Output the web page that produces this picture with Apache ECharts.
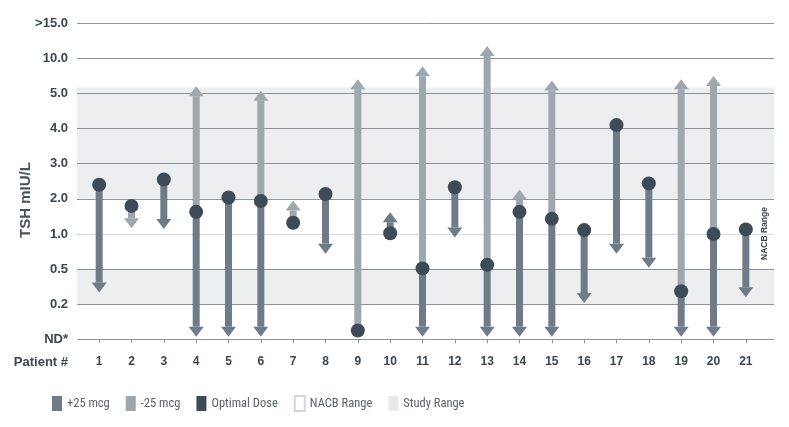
<!DOCTYPE html>
<html>
<head>
<meta charset="utf-8">
<script src="https://cdn.jsdelivr.net/npm/echarts@6/dist/echarts.min.js"></script>
<style>
html,body{margin:0;padding:0;background:#fff;}
#chart{width:789px;height:427px;}
</style>
</head>
<body>
<div id="chart"></div>
<script>
// ---- data ----
const patients = ['1','2','3','4','5','6','7','8','9','10','11','12','13','14','15','16','17','18','19','20','21'];
const tickLabels = ['ND*','0.2','0.5','1.0','2.0','3.0','4.0','5.0','10.0','>15.0'];
const tickValues = [0, 0.2, 0.5, 1, 2, 3, 4, 5, 10, 15];
// TSH (mIU/L) at optimal dose
const optimalDose = [2.4, 1.8, 2.55, 1.63, 2.04, 1.94, 1.32, 2.14, 0.05, 1.02, 0.51, 2.33, 0.56, 1.63, 1.43, 1.11, 4.1, 2.44, 0.31, 1.0, 1.13];
// TSH after +25 mcg (null = not tested)
const plus25End = [0.3, null, 1.14, 0.015, 0.015, 0.015, null, 0.72, null, 1.62, 0.015, 0.95, 0.015, 0.015, 0.015, 0.21, 0.72, 0.52, 0.015, 0.015, 0.26];
// TSH after -25 mcg (null = not tested)
const minus25End = [null, 1.16, null, 6.05, null, 5.4, 1.95, null, 7.05, null, 8.9, null, 11.75, 2.27, 6.85, null, null, null, 7.05, 7.5, null];
const nacbRange = [0.5, 2.0];
const studyRange = [0.2, 5.85];

// ---- colours ----
const C_PLUS = '#6f7b86';
const C_MINUS = '#9ea6ae';
const C_DOT = '#3d4a57';
const C_GRID = '#8d949b';
const C_TEXT = '#3a4552';
const FONT = "'Liberation Sans', Arial, Helvetica, sans-serif";
const FONT_N = "'Liberation Sans Narrow', 'Roboto Condensed', 'DejaVu Sans Condensed', 'Liberation Sans', sans-serif";

// piecewise scale: TSH value -> position on the ordinal tick scale
function toScale(v) {
  for (let i = 0; i < tickValues.length - 1; i++) {
    if (v <= tickValues[i + 1]) {
      return i + (v - tickValues[i]) / (tickValues[i + 1] - tickValues[i]);
    }
  }
  return tickValues.length - 1;
}

function arrowData(ends) {
  const out = [];
  ends.forEach((e, i) => {
    if (e !== null) out.push([i, toScale(optimalDose[i]), toScale(e)]);
  });
  return out;
}

function makeArrow(color) {
  return function (params, api) {
    const x = api.value(0);
    const p0 = api.coord([x, api.value(1)]);
    const p1 = api.coord([x, api.value(2)]);
    const dir = p1[1] < p0[1] ? -1 : 1;
    const headLen = 10, headHalf = 7.5, shaftHalf = 3.5;
    const baseY = p1[1] - dir * headLen;
    return {
      type: 'group',
      children: [
        { type: 'rect', shape: { x: p0[0] - shaftHalf, y: Math.min(p0[1], baseY), width: shaftHalf * 2, height: Math.abs(baseY - p0[1]) }, style: { fill: color } },
        { type: 'polygon', shape: { points: [[p0[0] - headHalf, baseY], [p0[0] + headHalf, baseY], [p0[0], p1[1]]] }, style: { fill: color } }
      ]
    };
  };
}

const chart = echarts.init(document.getElementById('chart'));
const gridTop = 23.3, gridBottom = 87.7;

chart.setOption({
  animation: false,
  backgroundColor: '#fff',
  textStyle: { fontFamily: FONT },
  grid: [
    { left: 77, right: 15, top: gridTop, bottom: gridBottom },
    { left: 83, right: 27, top: gridTop, bottom: gridBottom }
  ],
  xAxis: [
    { type: 'value', gridIndex: 0, min: 0, max: 1, show: false },
    {
      type: 'category', gridIndex: 1, data: patients,
      axisLine: { show: false },
      axisTick: { show: true, alignWithLabel: true, length: 4, lineStyle: { color: C_GRID, width: 1 } },
      axisLabel: { color: C_TEXT, fontWeight: 'bold', fontSize: 12, margin: 16, fontFamily: FONT },
      splitLine: { show: false }
    }
  ],
  yAxis: [
    {
      type: 'value', gridIndex: 0, min: 0, max: tickLabels.length - 1, interval: 1,
      axisLine: { show: false }, axisTick: { show: false },
      axisLabel: { color: C_TEXT, fontWeight: 'bold', fontSize: 13, margin: 9, fontFamily: FONT,
        formatter: v => tickLabels[v] },
      splitLine: { show: true, lineStyle: { color: C_GRID, width: 1 } }
    },
    { type: 'value', gridIndex: 1, min: 0, max: tickLabels.length - 1, interval: 1, show: false, splitLine: { show: false } }
  ],
  legend: {
    left: 52, top: 395, padding: 0, icon: 'rect', itemWidth: 10, itemHeight: 15, itemGap: 16,
    textStyle: { color: '#59636d', fontSize: 12.5, fontFamily: FONT_N },
    data: ['+25 mcg', '-25 mcg', 'Optimal Dose', 'NACB Range', 'Study Range'],
    selectedMode: false
  },
  graphic: [
    { type: 'text', x: 26, y: 200, rotation: Math.PI / 2, z: 100,
      style: { text: 'TSH mIU/L', fill: '#475360', font: "bold 15px 'Liberation Sans', Arial, sans-serif", textAlign: 'center', textVerticalAlign: 'middle' } },
    { type: 'text', x: 68, y: 362, z: 100,
      style: { text: 'Patient #', fill: C_TEXT, font: "bold 13px 'Liberation Sans', Arial, sans-serif", textAlign: 'right', textVerticalAlign: 'middle' } },
    { type: 'text', x: 765, y: 233.5, rotation: Math.PI / 2, z: 100,
      style: { text: 'NACB Range', fill: C_TEXT, font: "bold 8.5px 'Liberation Sans', Arial, sans-serif", textAlign: 'center', textVerticalAlign: 'middle' } }
  ],
  series: [
    {
      name: 'Study Range', type: 'scatter', xAxisIndex: 0, yAxisIndex: 0, data: [], symbolSize: 0,
      itemStyle: { color: '#e2e4e6' }, silent: true, z: 1,
      markArea: {
        silent: true,
        itemStyle: { color: 'rgba(120,135,150,0.14)' },
        data: [
          [{ xAxis: 0, yAxis: toScale(studyRange[0]) }, { xAxis: 1, yAxis: toScale(nacbRange[0]) }],
          [{ xAxis: 0, yAxis: toScale(nacbRange[1]) }, { xAxis: 1, yAxis: toScale(studyRange[1]) }]
        ]
      }
    },
    {
      name: 'NACB Range', type: 'scatter', xAxisIndex: 0, yAxisIndex: 0, data: [], symbolSize: 0,
      itemStyle: { color: '#ffffff', borderColor: '#c9cdd1', borderWidth: 1 }, silent: true, z: 1,
      markArea: {
        silent: true,
        itemStyle: { color: 'rgba(255,255,255,0.65)' },
        data: [[{ xAxis: 0, yAxis: toScale(nacbRange[0]) + 0.03 }, { xAxis: 1, yAxis: toScale(nacbRange[1]) - 0.03 }]]
      }
    },
    {
      name: '-25 mcg', type: 'custom', xAxisIndex: 1, yAxisIndex: 1, z: 3,
      itemStyle: { color: C_MINUS },
      encode: { x: 0, y: [1, 2] },
      renderItem: makeArrow(C_MINUS),
      data: arrowData(minus25End)
    },
    {
      name: '+25 mcg', type: 'custom', xAxisIndex: 1, yAxisIndex: 1, z: 3,
      itemStyle: { color: C_PLUS },
      encode: { x: 0, y: [1, 2] },
      renderItem: makeArrow(C_PLUS),
      data: arrowData(plus25End)
    },
    {
      name: 'Optimal Dose', type: 'scatter', xAxisIndex: 1, yAxisIndex: 1, z: 4,
      symbol: 'circle', symbolSize: 14,
      itemStyle: { color: C_DOT, opacity: 1 },
      data: optimalDose.map((v, i) => [i, toScale(v)])
    }
  ]
});
</script>
</body>
</html>
